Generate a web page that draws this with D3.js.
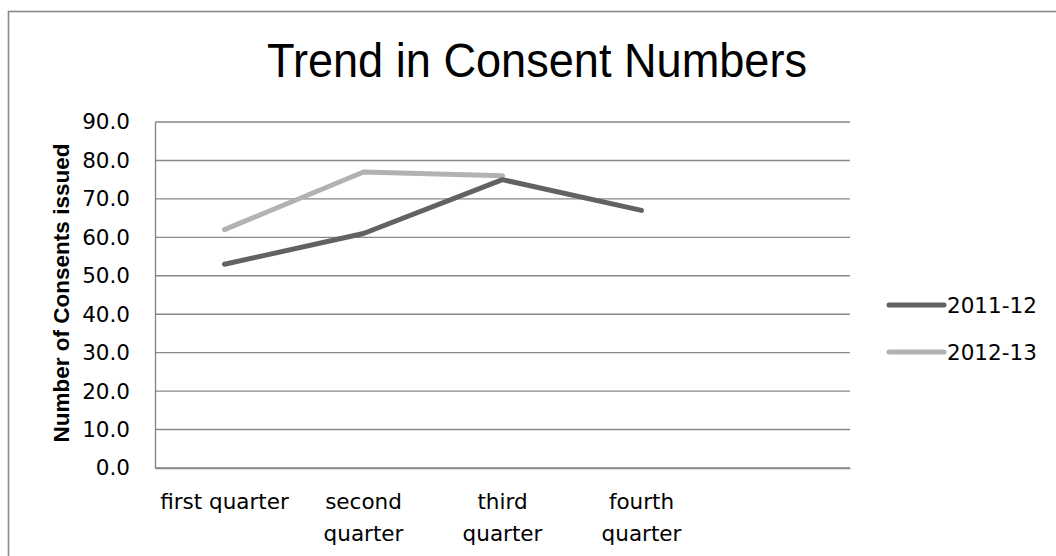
<!DOCTYPE html>
<html>
<head>
<meta charset="utf-8">
<script src="https://cdn.jsdelivr.net/npm/d3@7"></script>
<style>
  html, body { margin: 0; padding: 0; background: #fff; }
  svg { display: block; }
</style>
</head>
<body>
<svg id="chart" width="1056" height="556"></svg>
<script>
// Quarterly consent counts per financial year
const categories = ["first quarter", "second quarter", "third quarter", "fourth quarter", ""];
const series2011 = [53, 61, 75, 67, null];
const series2012 = [62, 77, 76, null, null];
const seriesNames = ["2011-12", "2012-13"];
const yTicks = [0, 10, 20, 30, 40, 50, 60, 70, 80, 90];

const colors = { "2011-12": "#626262", "2012-13": "#b2b2b2" };
const gridColor = "#888888";
const labelFont = "'DejaVu Sans', sans-serif";

const svg = d3.select("#chart");
const W = 1056, H = 556;

// Chart frame
svg.append("rect")
  .attr("x", 8.5).attr("y", 11.5)
  .attr("width", W + 10).attr("height", H + 10)
  .attr("fill", "#fff")
  .attr("stroke", "#8a8a8a").attr("stroke-width", 1.6);

// Title
svg.append("text")
  .attr("x", 537).attr("y", 77)
  .attr("text-anchor", "middle")
  .attr("font-family", "'Liberation Sans', Arial, sans-serif")
  .attr("font-size", 48)
  .attr("textLength", 540)
  .attr("lengthAdjust", "spacingAndGlyphs")
  .attr("fill", "#000")
  .text("Trend in Consent Numbers");

const plot = { left: 155, right: 850, top: 122, bottom: 468 };

const x = d3.scaleBand()
  .domain(categories.map((c, i) => i))
  .range([plot.left, plot.right]);

const y = d3.scaleLinear()
  .domain([0, 90])
  .range([plot.bottom, plot.top]);

// Horizontal gridlines
svg.append("g")
  .selectAll("line")
  .data(yTicks)
  .join("line")
  .attr("x1", plot.left).attr("x2", plot.right)
  .attr("y1", d => y(d)).attr("y2", d => y(d))
  .attr("stroke", gridColor).attr("stroke-width", 1.4);

// Y axis
const yAxis = svg.append("g")
  .attr("transform", `translate(${plot.left},0)`)
  .call(d3.axisLeft(y).tickValues(yTicks).tickFormat(d3.format(".1f")).tickSize(0).tickPadding(25));
yAxis.select(".domain").attr("stroke", gridColor).attr("stroke-width", 1.4);
yAxis.selectAll("text")
  .attr("font-family", labelFont)
  .attr("font-size", 21.5)
  .attr("fill", "#000");

// X axis
const xAxis = svg.append("g")
  .attr("transform", `translate(0,${plot.bottom})`)
  .call(d3.axisBottom(x).tickFormat(i => categories[i]).tickSize(0).tickPadding(0));
xAxis.select(".domain").attr("stroke", gridColor).attr("stroke-width", 1.4);
xAxis.selectAll("text").each(function (i) {
  const label = categories[i];
  const t = d3.select(this)
    .attr("font-family", labelFont)
    .attr("font-size", 21.5)
    .attr("fill", "#000")
    .attr("dy", null)
    .attr("y", 0)
    .text(null);
  // Single line when it fits the band, otherwise one word per line
  const lines = label === "first quarter" ? [label] : label.split(" ");
  lines.forEach((ln, k) => {
    t.append("tspan").attr("x", 0).attr("y", 41 + k * 32).text(ln);
  });
});

// Series lines
const line = d3.line()
  .defined(d => d != null)
  .x((d, i) => x(i) + x.bandwidth() / 2)
  .y(d => y(d));

const data = [
  { name: "2012-13", values: series2012 },
  { name: "2011-12", values: series2011 }
];

svg.append("g")
  .selectAll("path")
  .data(data)
  .join("path")
  .attr("d", d => line(d.values))
  .attr("fill", "none")
  .attr("stroke", d => colors[d.name])
  .attr("stroke-width", 5)
  .attr("stroke-linecap", "round")
  .attr("stroke-linejoin", "round");

// Axis title
svg.append("text")
  .attr("transform", "translate(69,293) rotate(-90)")
  .attr("text-anchor", "middle")
  .attr("font-family", "'Liberation Sans', Arial, sans-serif")
  .attr("font-weight", "bold")
  .attr("font-size", 22.5)
  .attr("fill", "#000")
  .text("Number of Consents issued");

// Legend
const legend = svg.append("g")
  .selectAll("g")
  .data(seriesNames)
  .join("g")
  .attr("transform", (d, i) => `translate(889,${305 + i * 47})`);
legend.append("line")
  .attr("x1", 0).attr("x2", 55)
  .attr("stroke", d => colors[d])
  .attr("stroke-width", 5)
  .attr("stroke-linecap", "round");
legend.append("text")
  .attr("x", 58).attr("y", 0)
  .attr("dy", "0.36em")
  .attr("font-family", labelFont)
  .attr("font-size", 21.5)
  .attr("fill", "#000")
  .text(d => d);
</script>
</body>
</html>
